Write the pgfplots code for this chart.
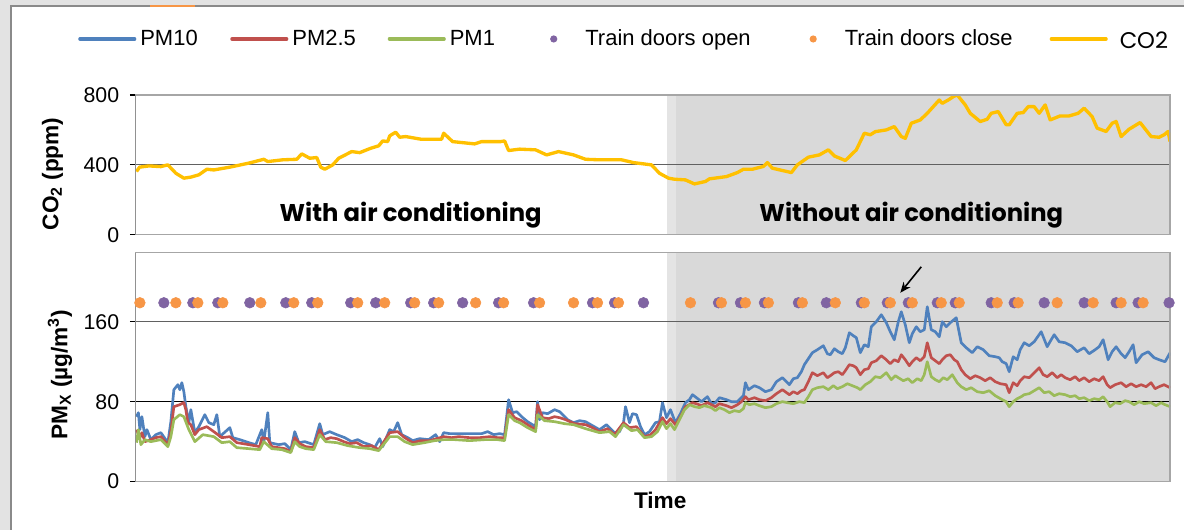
\documentclass[border=0pt]{standalone}
\usepackage{fontspec}
\setmainfont{Liberation Sans}
\newfontfamily\gothic{Poppins}
\usepackage{pgfplots}
\pgfplotsset{compat=1.18}
\usetikzlibrary{arrows.meta}
\definecolor{pmten}{HTML}{4F81BD}
\definecolor{pmtwo}{HTML}{C0504D}
\definecolor{pmone}{HTML}{9BBB59}
\definecolor{dopen}{HTML}{8064A2}
\definecolor{dclose}{HTML}{F79646}
\definecolor{cotwo}{HTML}{FFC000}
\definecolor{shadeA}{HTML}{E4E4E4}
\definecolor{shadeB}{HTML}{D9D9D9}
\definecolor{framebg}{HTML}{E3E3E3}
\definecolor{framecol}{HTML}{8A8A8A}
\pgfplotsset{
  legline/.style={legend image code/.code={\draw[#1,line width=2.6pt,line cap=round] (0pt,0pt) -- (41pt,0pt);}},
  legdot/.style={legend image code/.code={\path[draw=none] (0pt,0pt) -- (41pt,0pt); \fill[#1,draw=none] (20.25pt,0pt) circle (2.7pt);}},
  panel/.style={scale only axis, width=776.25pt, xmin=136, xmax=1171, xtick=\empty,
    axis line style={line width=0.9pt, black!35},
    tick align=outside, major tick length=4.5pt, ytick pos=left,
    ytick style={black, line width=0.9pt},
    /pgf/number format/assume math mode=true,
    tick label style={font=\fontsize{16}{19}\selectfont},
    yticklabel style={xshift=-4.5pt},
    ylabel style={font=\fontsize{17}{20}\selectfont\bfseries, anchor=center},
  },
}
\begin{document}
\begin{tikzpicture}
\fill[white] (0,0) rectangle (888.75pt,-397.5pt);
\fill[framebg] (0,0) rectangle (7.5pt,-397.5pt);
\fill[framebg] (0,0) rectangle (888.75pt,-3.8pt);
\draw[framecol, line width=1.4pt] (8.25pt,-397.5pt) -- (8.25pt,-4.4pt) -- (888.75pt,-4.4pt);
\draw[dclose, line width=1.4pt] (112.5pt,-4.4pt) -- (146.25pt,-4.4pt);

% ---------------- top panel: CO2 ----------------
\begin{axis}[panel, at={(102pt,-176.25pt)}, anchor=south west, height=105pt,
  ymin=0, ymax=800, ytick={0,400,800},
  ylabel={CO\textsubscript{2} (ppm)},
  ylabel style={at={(axis description cs:-0.0806,0.436)}},
  legend columns=6,
  legend style={at={(axis description cs:-0.056,1.4)}, anchor=west, draw=none, fill=none,
    inner sep=0pt, nodes={inner sep=0pt}, font=\fontsize{16.5}{19}\selectfont,
    /tikz/every odd column/.append style={column sep=3pt}},
  legend cell align=left]
\addlegendimage{legline=pmten}
\addlegendentry{\makebox[67.5pt][l]{PM10}}
\addlegendimage{legline=pmtwo}
\addlegendentry{\makebox[71.6pt][l]{PM2.5}}
\addlegendimage{legline=pmone}
\addlegendentry{\makebox[57.75pt][l]{PM1}}
\addlegendimage{legdot=dopen}
\addlegendentry{\makebox[150.75pt][l]{Train doors open}}
\addlegendimage{legdot=dclose}
\addlegendentry{\makebox[153.75pt][l]{Train doors close}}
\fill[shadeA] (axis cs:668,0) rectangle (axis cs:677,800);
\fill[shadeB] (axis cs:677,0) rectangle (axis cs:1171,800);
\draw[black!62, line width=0.9pt] (axis cs:136,400) -- (axis cs:1171,400);
\addplot[cotwo, line width=2.5pt, line join=round, legline=cotwo] coordinates {
(136.6,362)(139.7,387)(149,394)(161,390)(168,400)(176,352)(184,324)(191,330)(199,343)(207,375)(214,371)(230,387)(249,410)(264,432)(268,419)(283,429)(297,432)(302,463)(310,438)(317,442)(321,387)(325,375)(333,400)(339,438)(352,476)(360,470)(371,495)(379,509)(383,537)(388,533)(390,566)(396,587)(400,558)(406,562)(421,547)(442,547)(444,581)(453,533)(475,520)(482,533)(501,533)(505,537)(509,482)(520,490)(536,486)(547,457)(559,476)(574,457)(586,432)(600,429)(622,429)(634,413)(652,400)(660,352)(669,324)(675,318)(686,314)(695,291)(706,305)(710,320)(727,333)(738,356)(744,375)(753,375)(764,391)(768,413)(773,381)(792,356)(798,400)(809,444)(820,457)(829,486)(835,451)(846,425)(857,486)(865,581)(871,572)(876,590)(887,600)(895,619)(902,562)(906,552)(912,638)(921,657)(928,695)(934,733)(940,771)(943,752)(949,771)(954,790)(958,800)(966,743)(971,695)(981,648)(988,661)(992,695)(999,705)(1007,629)(1010,629)(1018,695)(1024,699)(1029,733)(1035,733)(1040,695)(1046,743)(1051,657)(1061,680)(1070,680)(1079,695)(1085,724)(1093,676)(1098,610)(1107,591)(1113,638)(1117,648)(1122,562)(1130,604)(1141,642)(1152,562)(1160,558)(1165,572)(1169,591)(1171,533)
};
\addlegendentry{\hspace{6pt}\raisebox{-3pt}{\gothic\fontsize{17}{20}\selectfont CO2}}
\node[anchor=base, font=\gothic\bfseries\fontsize{18.2}{21}\selectfont] at (axis cs:411,76) {With air conditioning};
\node[anchor=base, font=\gothic\bfseries\fontsize{18.2}{21}\selectfont] at (axis cs:912,76) {Without air conditioning};
\draw[black!35, line width=0.9pt] (rel axis cs:0,1) -- (rel axis cs:1,1) -- (rel axis cs:1,0) -- (rel axis cs:0,0);
\draw[black, line width=0.9pt] (rel axis cs:0,0) -- (rel axis cs:0,1);
\end{axis}

% ---------------- bottom panel: PM ----------------
\begin{axis}[panel, at={(102pt,-361.5pt)}, anchor=south west, height=171.75pt,
  ymin=0, ymax=229, ytick={0,80,160},
  ylabel={PM\textsubscript{X} (µg/m\textsuperscript{3})},
  ylabel style={at={(axis description cs:-0.0734,0.467)}},
  xlabel={Time},
  xlabel style={at={(axis description cs:0.507,-0.083)}, anchor=center, font=\fontsize{17}{20}\selectfont\bfseries}]
\fill[shadeA] (axis cs:668,0) rectangle (axis cs:677,229);
\fill[shadeB] (axis cs:677,0) rectangle (axis cs:1171,229);
\draw[black!62, line width=0.9pt] (axis cs:136,160) -- (axis cs:1171,160);
\draw[black, line width=0.9pt] (axis cs:136,80) -- (axis cs:1171,80);
\addplot[pmten, line width=2pt, line join=round] coordinates {
(136.6,65)(138.5,69)(140,52)(142,65)(145,45)(147,52)(151,42)(156,47)(161,49)(168,39)(171,60)(174,92)(178,97)(180,92)(182,99)(184,90)(186,75)(189,59)(191,72)(195,49)(199,55)(205,67)(209,59)(214,57)(217,67)(220,45)(230,54)(233,44)(240,42)(249,39)(256,37)(262,52)(264,40)(268,69)(270,39)(279,37)(285,38)(291,32)(295,50)(299,39)(305,40)(314,37)(320,58)(323,47)(330,50)(337,47)(345,44)(352,40)(358,42)(364,39)(370,37)(375,34)(380,43)(383,35)(390,52)(394,50)(398,59)(402,47)(408,44)(413,41)(420,43)(429,42)(436,47)(440,40)(444,49)(450,48)(459,48)(470,48)(482,48)(488,50)(494,47)(500,48)(505,47)(509,82)(513,69)(517,70)(522,65)(528,60)(536,55)(538,80)(540,62)(543,69)(548,68)(555,72)(560,70)(563,67)(568,62)(574,59)(580,61)(586,60)(593,56)(600,52)(607,57)(615,49)(620,50)(624,59)(626,75)(630,59)(633,68)(637,67)(641,55)(645,47)(650,50)(656,59)(660,60)(663,79)(667,64)(671,72)(676,59)(681,68)(686,79)(690,82)(693,87)(697,84)(702,80)(708,85)(712,78)(716,79)(720,84)(727,82)(732,80)(738,80)(744,86)(746,99)(749,92)(755,96)(760,94)(766,90)(772,92)(777,100)(783,104)(790,97)(794,103)(798,104)(802,110)(805,117)(809,123)(813,129)(818,132)(824,136)(828,128)(831,127)(835,133)(839,130)(843,128)(846,134)(850,149)(854,146)(857,144)(861,129)(865,137)(869,135)(872,155)(877,160)(882,167)(887,159)(891,150)(895,142)(899,160)(902,170)(906,157)(910,139)(913,148)(917,155)(921,150)(925,152)(928,175)(932,152)(936,150)(940,145)(943,160)(947,155)(951,159)(957,164)(962,139)(967,134)(973,129)(978,135)(984,132)(990,126)(996,125)(1000,124)(1003,120)(1007,118)(1010,110)(1014,125)(1018,122)(1021,132)(1025,139)(1030,136)(1035,140)(1042,150)(1048,135)(1052,142)(1055,147)(1060,140)(1066,139)(1072,136)(1078,130)(1085,134)(1090,128)(1096,132)(1100,135)(1104,142)(1109,122)(1113,130)(1117,135)(1122,128)(1126,124)(1130,130)(1134,137)(1137,119)(1143,127)(1149,130)(1155,124)(1160,122)(1166,120)(1171,129)
};
\addplot[pmtwo, line width=2pt, line join=round] coordinates {
(136.6,52)(140,44)(142,49)(145,40)(151,42)(156,44)(161,45)(168,37)(171,50)(174,75)(180,77)(184,79)(186,72)(188,59)(191,57)(195,47)(199,52)(207,55)(214,50)(222,44)(230,45)(237,39)(249,37)(260,35)(262,44)(268,43)(272,35)(285,33)(291,30)(295,44)(300,38)(306,35)(314,34)(320,52)(325,42)(331,44)(337,43)(344,40)(350,38)(357,39)(364,35)(372,36)(379,32)(390,49)(398,50)(405,44)(413,39)(421,41)(430,41)(437,43)(444,45)(452,44)(459,45)(470,44)(480,44)(490,45)(498,44)(505,44)(509,72)(515,64)(522,61)(528,57)(536,52)(538,77)(543,64)(549,63)(555,65)(560,64)(566,62)(575,58)(586,57)(593,54)(600,50)(608,53)(615,47)(624,59)(630,54)(637,55)(645,45)(651,47)(656,52)(663,64)(667,58)(671,63)(676,57)(681,65)(686,75)(690,77)(693,79)(697,78)(702,76)(708,79)(712,77)(716,75)(720,78)(727,76)(732,74)(738,77)(742,80)(746,85)(749,82)(755,84)(760,82)(766,81)(772,84)(777,88)(783,92)(790,87)(794,90)(798,88)(802,91)(805,92)(809,100)(813,109)(818,106)(824,109)(828,104)(831,106)(835,109)(839,110)(843,107)(846,111)(850,117)(854,116)(857,114)(861,107)(865,112)(869,113)(872,119)(877,121)(882,126)(887,122)(891,118)(895,122)(899,120)(902,127)(906,122)(910,116)(913,120)(917,124)(921,121)(925,125)(928,139)(932,124)(936,121)(940,118)(943,122)(947,126)(951,127)(955,122)(958,120)(962,112)(966,107)(971,103)(976,106)(981,104)(986,101)(991,104)(996,100)(1001,98)(1007,97)(1010,89)(1014,99)(1018,96)(1021,101)(1025,105)(1030,104)(1035,109)(1040,114)(1044,107)(1048,105)(1053,109)(1058,104)(1062,107)(1066,104)(1071,102)(1076,105)(1080,101)(1085,104)(1090,100)(1095,103)(1100,101)(1104,105)(1108,97)(1111,94)(1116,97)(1122,99)(1127,95)(1132,98)(1137,95)(1142,97)(1147,95)(1152,99)(1156,93)(1160,95)(1165,97)(1171,94)
};
\addplot[pmone, line width=2pt, line join=round] coordinates {
(136.6,39)(138.5,52)(141,37)(145,42)(151,40)(156,41)(161,42)(168,35)(171,45)(174,62)(180,67)(184,65)(189,52)(195,40)(203,47)(214,45)(222,39)(230,40)(237,34)(249,33)(260,32)(264,40)(272,33)(282,32)(291,29)(295,40)(300,35)(306,33)(314,32)(320,47)(326,40)(337,39)(348,36)(360,34)(370,33)(379,31)(390,45)(398,45)(405,40)(413,37)(425,39)(435,41)(444,42)(455,42)(470,41)(485,42)(498,42)(505,41)(509,67)(515,61)(520,59)(528,54)(536,50)(538,67)(545,61)(555,60)(565,58)(574,57)(586,53)(600,49)(610,50)(616,45)(624,57)(632,51)(638,52)(645,44)(652,45)(658,50)(663,60)(667,53)(671,58)(675,52)(680,62)(685,72)(690,77)(695,75)(700,74)(705,76)(712,74)(716,71)(720,74)(725,72)(730,69)(735,71)(740,70)(744,73)(746,79)(750,77)(755,78)(760,76)(766,74)(772,75)(777,78)(783,80)(788,79)(794,78)(800,80)(805,79)(809,85)(813,92)(818,94)(824,95)(829,92)(834,96)(838,93)(843,95)(848,98)(853,96)(858,94)(861,92)(866,97)(871,100)(876,105)(881,104)(887,109)(892,102)(896,106)(899,104)(904,101)(909,103)(913,99)(918,103)(922,101)(925,107)(928,120)(932,105)(936,102)(940,100)(944,104)(948,102)(953,107)(958,99)(962,95)(967,92)(972,94)(978,90)(984,89)(990,91)(996,86)(1003,82)(1007,80)(1010,75)(1014,80)(1018,83)(1022,85)(1025,87)(1030,88)(1035,91)(1040,94)(1045,89)(1050,90)(1055,86)(1060,88)(1066,87)(1071,85)(1076,86)(1080,83)(1085,84)(1090,81)(1095,83)(1100,82)(1104,85)(1108,80)(1111,75)(1116,79)(1121,78)(1126,81)(1130,80)(1135,77)(1140,80)(1145,78)(1152,79)(1157,76)(1162,79)(1166,77)(1171,75)
};
\addplot[only marks, mark=*, mark size=4pt, dopen, mark options={draw=none, fill=dopen}] coordinates {
(164,179)(193,179)(218,179)(250,179)(286,179)(312,179)(351,179)(376,179)(411,179)(434,179)(463,179)(499,179)(534,179)(593,179)(615,179)(644,179)(719,179)(741,179)(765,179)(799,179)(827,179)(862,179)(888,179)(909,179)(938,179)(956,179)(992,179)(1015,179)(1045,179)(1085,179)(1117,179)(1139,179)(1170,179)
};
\addplot[only marks, mark=*, mark size=4pt, dclose, mark options={draw=none, fill=dclose}] coordinates {
(140,179)(176,179)(198,179)(223,179)(261,179)(294,179)(318,179)(358,179)(385,179)(415,179)(439,179)(476,179)(504,179)(540,179)(574,179)(598,179)(619,179)(691,179)(722,179)(746,179)(769,179)(803,179)(836,179)(865,179)(891,179)(913,179)(942,179)(960,179)(998,179)(1019,179)(1058,179)(1094,179)(1122,179)(1144,179)
};
\draw[-{Stealth[length=8pt,width=6.5pt]}, black, line width=1.2pt] (axis cs:922,215) -- (axis cs:901,189);
\draw[black!35, line width=0.9pt] (rel axis cs:0,1) -- (rel axis cs:1,1) -- (rel axis cs:1,0) -- (rel axis cs:0,0);
\draw[black, line width=0.9pt] (rel axis cs:0,0) -- (rel axis cs:0,1);
\end{axis}
\path (0,0) (888.75pt,-397.5pt);
\end{tikzpicture}
\end{document}
